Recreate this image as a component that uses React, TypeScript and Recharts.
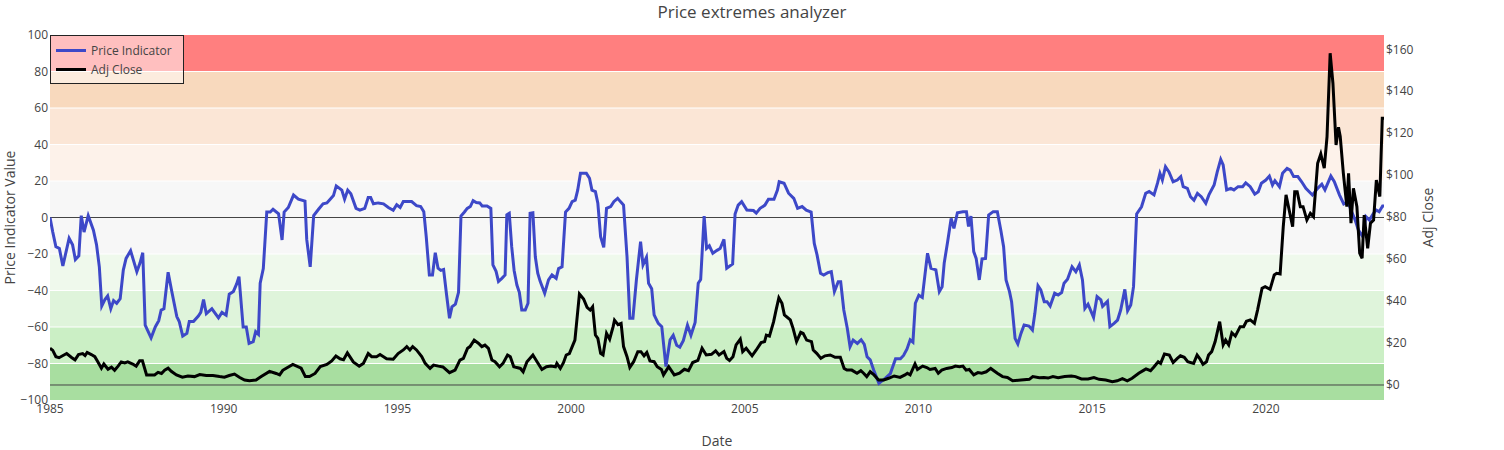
import { LineChart, Line, XAxis, YAxis, ReferenceArea, ReferenceLine } from 'recharts';

// [decimal year, indicator value]
const indicatorSeries: [number, number][] = [
  [1985.0, 0], [1985.08, -8], [1985.17, -16], [1985.27, -17], [1985.37, -26.6], [1985.55, -11.4], [1985.65, -15],
  [1985.73, -23], [1985.83, -21], [1985.9, 1], [1985.98, -8], [1986.1, 1], [1986.25, -7], [1986.34, -15],
  [1986.42, -27], [1986.49, -48.5], [1986.58, -45], [1986.66, -43], [1986.75, -50], [1986.83, -45.5], [1986.92, -47],
  [1987.02, -44.5], [1987.11, -28.8], [1987.19, -22.4], [1987.32, -18.2], [1987.5, -29.7], [1987.59, -25],
  [1987.67, -19.3], [1987.74, -59], [1987.91, -66], [1988.03, -60], [1988.13, -56.5], [1988.2, -50.7],
  [1988.28, -50], [1988.4, -30], [1988.5, -40], [1988.65, -54.3], [1988.72, -57], [1988.82, -65], [1988.94, -63.5],
  [1989.01, -57], [1989.13, -57], [1989.27, -54], [1989.34, -52], [1989.42, -45], [1989.5, -52.7], [1989.66, -50],
  [1989.85, -55], [1989.95, -52], [1990.07, -53.5], [1990.16, -42], [1990.28, -40.5], [1990.37, -36.5],
  [1990.44, -32.4], [1990.56, -60], [1990.65, -60], [1990.73, -69], [1990.85, -68], [1990.92, -62.5], [1991.0, -64],
  [1991.05, -36], [1991.14, -28], [1991.24, 3], [1991.34, 3], [1991.42, 4.5], [1991.58, 2], [1991.68, -12.3],
  [1991.74, 3], [1991.86, 5.5], [1992.01, 12.3], [1992.15, 10], [1992.34, 9], [1992.39, -12], [1992.49, -27],
  [1992.59, 1], [1992.73, 4.5], [1992.86, 7.5], [1992.97, 8], [1993.04, 9.5], [1993.16, 12], [1993.24, 17.3],
  [1993.4, 15], [1993.48, 10], [1993.57, 15], [1993.66, 13], [1993.81, 5], [1993.92, 4], [1994.06, 5],
  [1994.16, 11], [1994.23, 11], [1994.31, 7.5], [1994.45, 8], [1994.6, 7.5], [1994.74, 5.5], [1994.88, 4],
  [1994.98, 7], [1995.08, 5.5], [1995.17, 8.7], [1995.41, 8.7], [1995.55, 6.5], [1995.67, 6], [1995.76, 3.2],
  [1995.83, -10.5], [1995.92, -31.5], [1996.01, -31.5], [1996.09, -19.3], [1996.17, -27.8], [1996.25, -29],
  [1996.33, -28.5], [1996.41, -41.5], [1996.5, -55.2], [1996.57, -49], [1996.67, -47.5], [1996.76, -41],
  [1996.83, 0.8], [1996.93, 3], [1997.01, 5], [1997.1, 6], [1997.18, 9.2], [1997.27, 8.2], [1997.37, 8],
  [1997.44, 6.3], [1997.58, 6.3], [1997.69, 5], [1997.75, -26], [1997.84, -29.5], [1997.91, -35], [1998.0, -33.5],
  [1998.1, -31.5], [1998.15, 1.5], [1998.22, 2.3], [1998.29, -16], [1998.36, -29], [1998.44, -37], [1998.51, -41],
  [1998.58, -50.7], [1998.68, -50.7], [1998.76, -47], [1998.82, 2.3], [1998.9, 2.6], [1998.97, -21.5],
  [1999.04, -30.5], [1999.11, -35], [1999.24, -41.5], [1999.35, -34.2], [1999.45, -31.5], [1999.57, -33.3],
  [1999.64, -28], [1999.74, -27], [1999.84, 3], [1999.94, 5], [2000.03, 8.7], [2000.12, 9.5], [2000.19, 15],
  [2000.27, 24.2], [2000.44, 24.2], [2000.53, 21.5], [2000.6, 15], [2000.7, 14.2], [2000.77, 7.8], [2000.85, -10.5],
  [2000.94, -16.4], [2001.02, 5], [2001.14, 6], [2001.23, 8.7], [2001.34, 10.5], [2001.42, 8.7], [2001.51, 6.8],
  [2001.61, -21.5], [2001.69, -55.2], [2001.78, -55.2], [2001.88, -34.2], [2002.0, -13.2], [2002.07, -26],
  [2002.17, -21.8], [2002.23, -36], [2002.32, -39], [2002.39, -53.4], [2002.51, -58], [2002.61, -59.8],
  [2002.73, -81.7], [2002.85, -67], [2002.94, -64.5], [2003.04, -70], [2003.13, -71], [2003.23, -67.5],
  [2003.35, -59], [2003.45, -64.5], [2003.57, -57.5], [2003.66, -36], [2003.73, -34], [2003.83, 0.8],
  [2003.9, -16.9], [2003.98, -15.5], [2004.08, -19.6], [2004.2, -18], [2004.29, -17], [2004.4, -12],
  [2004.48, -27.8], [2004.65, -25.5], [2004.72, 1.9], [2004.81, 6.8], [2004.91, 8.7], [2005.06, 4.1],
  [2005.25, 3.8], [2005.33, 2.4], [2005.44, 5], [2005.58, 6.8], [2005.68, 10], [2005.84, 10], [2005.94, 15],
  [2005.99, 19.6], [2006.13, 18.8], [2006.26, 13.3], [2006.41, 10.5], [2006.52, 5], [2006.65, 6], [2006.77, 4],
  [2006.91, 3], [2007.0, -14.2], [2007.08, -20.5], [2007.18, -30.6], [2007.27, -31.5], [2007.39, -30.2],
  [2007.49, -29.7], [2007.58, -40.6], [2007.69, -35.2], [2007.76, -35.2], [2007.85, -50.7], [2007.95, -60.7],
  [2008.03, -70.8], [2008.12, -67.2], [2008.24, -69], [2008.35, -67], [2008.44, -69.5], [2008.52, -76.3],
  [2008.61, -78], [2008.71, -83.6], [2008.86, -90.9], [2009.05, -88], [2009.19, -85.5], [2009.34, -77.4],
  [2009.48, -77.4], [2009.57, -75.6], [2009.67, -72], [2009.76, -67], [2009.84, -68.3], [2009.91, -47],
  [2010.01, -42.6], [2010.11, -43.8], [2010.18, -32.4], [2010.26, -19.6], [2010.36, -27.8], [2010.5, -28.7],
  [2010.6, -40.6], [2010.68, -38], [2010.74, -25], [2010.84, -13.2], [2010.94, -0.5], [2011.02, -6],
  [2011.12, 2.6], [2011.28, 3.2], [2011.38, 3.2], [2011.44, -4.9], [2011.51, 0.8], [2011.59, -18.7],
  [2011.66, -22.4], [2011.75, -34.2], [2011.83, -22.7], [2011.93, -22.4], [2012.02, 1.4], [2012.15, 3.2],
  [2012.27, 3.2], [2012.37, -7], [2012.45, -16], [2012.52, -34.2], [2012.62, -40.6], [2012.68, -46.1],
  [2012.78, -66.2], [2012.86, -69.3], [2012.95, -63.5], [2013.04, -58.9], [2013.18, -59.5], [2013.28, -61.7],
  [2013.35, -52.5], [2013.44, -37.4], [2013.52, -39.7], [2013.62, -46.1], [2013.7, -46.1], [2013.79, -48.5],
  [2013.92, -41.5], [2014.02, -42.5], [2014.12, -41.1], [2014.19, -36], [2014.29, -33.8], [2014.42, -27],
  [2014.53, -29.7], [2014.63, -26], [2014.72, -34.2], [2014.79, -49.8], [2014.88, -47.5], [2015.04, -54.7],
  [2015.14, -43.3], [2015.25, -45.1], [2015.3, -48.7], [2015.44, -46], [2015.51, -59.8], [2015.63, -58],
  [2015.73, -56.2], [2015.82, -50.7], [2015.94, -39.4], [2016.02, -51.1], [2016.11, -48], [2016.19, -37.9],
  [2016.28, 1.9], [2016.42, 5.9], [2016.54, 13.3], [2016.64, 14.2], [2016.78, 12.4], [2016.88, 18.8],
  [2016.95, 24.2], [2017.02, 20.5], [2017.11, 27.8], [2017.21, 25], [2017.33, 19.6], [2017.45, 20.5],
  [2017.55, 22.4], [2017.62, 16.9], [2017.74, 16], [2017.83, 11.4], [2017.93, 9.5], [2018.03, 13.2],
  [2018.14, 11.4], [2018.27, 7.8], [2018.36, 12.4], [2018.51, 17.8], [2018.6, 25], [2018.7, 31.8],
  [2018.77, 28.8], [2018.87, 15.1], [2018.99, 16], [2019.08, 15.1], [2019.2, 16.9], [2019.33, 16.9],
  [2019.42, 19], [2019.55, 16.9], [2019.68, 12.8], [2019.78, 14.1], [2019.87, 18.8], [2020.0, 20.5],
  [2020.1, 22.7], [2020.19, 17.8], [2020.26, 20.2], [2020.39, 16.9], [2020.48, 24.2], [2020.61, 26.9],
  [2020.7, 26], [2020.8, 22.4], [2020.92, 22.4], [2021.03, 19.6], [2021.15, 16], [2021.34, 12.3],
  [2021.49, 16], [2021.61, 18.2], [2021.7, 15.1], [2021.87, 22.7], [2021.97, 19.6], [2022.12, 12.3],
  [2022.24, 7.4], [2022.36, 8.7], [2022.45, 4.1], [2022.57, -1.4], [2022.66, -6.8], [2022.79, -10.5],
  [2022.88, 0.5], [2022.98, -1.4], [2023.07, 1.4], [2023.17, 4.1], [2023.26, 3.2], [2023.36, 6.3], [2023.4, 6.3],
];

// [decimal year, adjusted close in $]
const closeSeries: [number, number][] = [
  [1985.0, 17.5], [1985.08, 16.5], [1985.17, 13.5], [1985.26, 13], [1985.48, 15], [1985.63, 13], [1985.72, 12],
  [1985.82, 14.5], [1985.94, 15], [1986.01, 14], [1986.07, 15.5], [1986.19, 14.5], [1986.29, 13.5], [1986.38, 11],
  [1986.48, 8], [1986.55, 10], [1986.67, 7.5], [1986.77, 8.5], [1986.86, 7], [1986.96, 9], [1987.05, 11],
  [1987.15, 10.5], [1987.24, 11], [1987.38, 10], [1987.48, 9], [1987.58, 11.5], [1987.66, 11.5], [1987.78, 4.8],
  [1987.92, 4.8], [1988.01, 4.8], [1988.11, 6], [1988.21, 5.5], [1988.3, 7], [1988.4, 8], [1988.49, 6.5],
  [1988.64, 4.8], [1988.81, 3.7], [1988.97, 4.3], [1989.16, 4], [1989.31, 5], [1989.5, 4.5], [1989.69, 4.5],
  [1989.88, 4], [1990.02, 3.7], [1990.16, 4.5], [1990.31, 5.2], [1990.45, 3.7], [1990.6, 2.4], [1990.74, 2],
  [1990.93, 2.4], [1991.08, 4], [1991.32, 6.5], [1991.51, 5.5], [1991.61, 4.8], [1991.7, 7], [1991.8, 8],
  [1991.99, 9.8], [1992.23, 8], [1992.35, 4], [1992.47, 4], [1992.63, 5.5], [1992.78, 8.8], [1992.97, 9.8],
  [1993.11, 11.5], [1993.23, 13.8], [1993.35, 12.5], [1993.45, 12], [1993.56, 15.3], [1993.73, 11],
  [1993.9, 9], [1994.02, 10.3], [1994.16, 15], [1994.26, 13.5], [1994.4, 13.5], [1994.5, 14.5], [1994.69, 12.5],
  [1994.88, 12.3], [1995.02, 15], [1995.17, 16.7], [1995.27, 18.3], [1995.36, 16.7], [1995.44, 18.3],
  [1995.55, 16.7], [1995.7, 13.5], [1995.8, 10.3], [1995.94, 7.9], [1996.04, 9.5], [1996.18, 9], [1996.31, 8.6],
  [1996.5, 5.9], [1996.66, 7.1], [1996.8, 11.9], [1996.9, 12.7], [1997.02, 17.5], [1997.09, 18.3],
  [1997.21, 21.4], [1997.33, 19.9], [1997.43, 18.3], [1997.52, 19], [1997.62, 17.5], [1997.72, 11.9],
  [1997.81, 11.1], [1997.94, 8.7], [1998.04, 10.3], [1998.17, 14.3], [1998.25, 13.5], [1998.35, 8.7],
  [1998.44, 8.3], [1998.54, 7.9], [1998.62, 6.3], [1998.73, 11.1], [1998.9, 14.3], [1999.02, 11.1],
  [1999.16, 7.4], [1999.29, 8.7], [1999.42, 9], [1999.55, 8.7], [1999.59, 10.3], [1999.69, 7.9],
  [1999.78, 10.6], [1999.86, 14.3], [1999.95, 15], [2000.05, 19], [2000.11, 21.4], [2000.24, 43.4],
  [2000.36, 41], [2000.46, 37], [2000.55, 35.7], [2000.62, 37.3], [2000.7, 23.8], [2000.77, 22.2],
  [2000.85, 15.1], [2000.92, 14.3], [2001.02, 24.6], [2001.11, 21.8], [2001.21, 27.8], [2001.25, 30.9],
  [2001.35, 28.8], [2001.44, 29.4], [2001.51, 18.3], [2001.61, 13.5], [2001.69, 8.4], [2001.8, 11.1],
  [2001.92, 15.9], [2002.01, 15.9], [2002.1, 13.9], [2002.18, 15.5], [2002.27, 11.5], [2002.39, 11.1],
  [2002.48, 8.7], [2002.6, 7.4], [2002.66, 4.8], [2002.81, 8.7], [2002.97, 4.8], [2003.12, 5.6], [2003.26, 7.5],
  [2003.38, 6.8], [2003.5, 10.7], [2003.65, 11.7], [2003.77, 17.5], [2003.89, 14.3], [2004.04, 14.6],
  [2004.16, 16.3], [2004.26, 14.3], [2004.4, 15.9], [2004.48, 12.7], [2004.56, 11.7], [2004.66, 13.5],
  [2004.75, 19.1], [2004.87, 21.8], [2004.94, 15.9], [2005.04, 17.5], [2005.21, 13.9], [2005.33, 16.7],
  [2005.47, 20.2], [2005.57, 20.7], [2005.62, 23.8], [2005.71, 23.3], [2005.83, 30.2], [2005.9, 35.7],
  [2005.98, 41.5], [2006.07, 38.9], [2006.14, 33.4], [2006.31, 31], [2006.39, 27], [2006.49, 20.7],
  [2006.61, 25.1], [2006.68, 24.6], [2006.78, 21.4], [2006.92, 20.7], [2006.97, 16.7], [2007.07, 15.1],
  [2007.19, 12.7], [2007.31, 13.9], [2007.46, 14.3], [2007.6, 13.2], [2007.75, 13.2], [2007.86, 7.9],
  [2007.94, 7.1], [2008.08, 7.1], [2008.23, 5.6], [2008.34, 6.8], [2008.42, 5.6], [2008.51, 4], [2008.61, 6.3],
  [2008.72, 4.8], [2008.85, 2.4], [2009.0, 2.4], [2009.14, 3.2], [2009.3, 4.3], [2009.47, 3.6], [2009.61, 4.8],
  [2009.68, 5.6], [2009.76, 4.8], [2009.9, 10], [2009.97, 7.4], [2010.12, 9], [2010.24, 8.3], [2010.33, 7.4],
  [2010.48, 7.9], [2010.57, 5.6], [2010.67, 7.1], [2010.81, 7.9], [2010.96, 8.3], [2011.06, 9], [2011.18, 8.7],
  [2011.28, 9], [2011.37, 7.1], [2011.46, 7.4], [2011.59, 4.8], [2011.71, 5.9], [2011.82, 5.6], [2011.95, 6.3],
  [2012.08, 7.9], [2012.18, 6.7], [2012.27, 5.6], [2012.42, 4], [2012.56, 3.6], [2012.71, 2], [2012.95, 2.4],
  [2013.19, 2.7], [2013.29, 4], [2013.48, 3.5], [2013.61, 3.6], [2013.73, 3.3], [2013.87, 4], [2014.02, 3.5],
  [2014.21, 4], [2014.4, 4.3], [2014.52, 4], [2014.69, 2.9], [2014.88, 2.9], [2015.05, 3.5], [2015.2, 2.7],
  [2015.39, 2.4], [2015.58, 1.6], [2015.72, 2], [2015.87, 3], [2016.01, 2], [2016.15, 3.2], [2016.34, 5.6],
  [2016.49, 7.1], [2016.55, 7.7], [2016.68, 6.8], [2016.77, 8.5], [2016.9, 11.1], [2016.97, 10.3],
  [2017.08, 14.8], [2017.22, 14.3], [2017.33, 10.7], [2017.45, 12.7], [2017.54, 13.9], [2017.65, 13.2],
  [2017.75, 11.1], [2017.92, 10.3], [2018.02, 14.3], [2018.11, 12.2], [2018.19, 9.9], [2018.29, 11.1],
  [2018.35, 14.3], [2018.44, 15.9], [2018.54, 20.7], [2018.67, 30.2], [2018.77, 19.1], [2018.84, 21.4],
  [2018.93, 19.1], [2019.02, 24.9], [2019.12, 23.3], [2019.26, 27.8], [2019.36, 27.8], [2019.44, 30.4],
  [2019.55, 31], [2019.67, 29.4], [2019.76, 35.7], [2019.89, 46.1], [2019.98, 46.9], [2020.12, 45.6],
  [2020.24, 52.4], [2020.31, 53.2], [2020.41, 52.9], [2020.5, 75.5], [2020.58, 90.6], [2020.67, 83.4],
  [2020.77, 75.5], [2020.83, 92.1], [2020.9, 92.1], [2020.99, 85], [2021.07, 85], [2021.18, 78.6],
  [2021.28, 81.8], [2021.37, 80.2], [2021.49, 105.7], [2021.58, 110.1], [2021.68, 103.3], [2021.76, 118.4],
  [2021.85, 158.1], [2021.93, 143.8], [2022.02, 114.4], [2022.09, 122.8], [2022.14, 118.4], [2022.23, 100.9],
  [2022.33, 85], [2022.38, 100.9], [2022.45, 77.1], [2022.52, 93.7], [2022.62, 85], [2022.7, 62.8],
  [2022.77, 60.4], [2022.83, 81], [2022.93, 65.1], [2023.01, 77.1], [2023.1, 78.6], [2023.18, 97.7],
  [2023.28, 89.8], [2023.35, 127.1], [2023.4, 127.1],
];

const yearTicks = [1985, 1990, 1995, 2000, 2005, 2010, 2015, 2020];
const indicatorTicks = [-100, -80, -60, -40, -20, 0, 20, 40, 60, 80, 100];
const closeTicks = [0, 20, 40, 60, 80, 100, 120, 140, 160];

// shaded zones of the indicator
const bandLow = [-100, -80, -60, -40, -20, 20, 40, 60, 80];
const bandHigh = [-80, -60, -40, -20, 20, 40, 60, 80, 100];
const bandFill = ['#a8dea0', '#cbefc5', '#dff4db', '#eff9ec', '#f7f7f7', '#fdf2ea', '#fbe6d6', '#f8d9bd', '#ff7f7f'];

const indicatorData = indicatorSeries.map(([t, v]) => ({ t, v }));
const closeData = closeSeries.map(([t, v]) => ({ t, v }));

const FONT = '"Open Sans", verdana, arial, sans-serif';
const tickStyle = { fill: '#444', fontSize: 12, fontFamily: FONT };
const minus = (v: number) => (v < 0 ? `\u2212${Math.abs(v)}` : `${v}`);

export default function App() {
  return (
    <div style={{ position: 'absolute', left: 0, top: 0, width: 1504, height: 450, fontFamily: FONT, background: '#fff' }}>
      <div style={{ position: 'absolute', left: 0, top: 0, width: 1504, textAlign: 'center', fontSize: 17, lineHeight: '24px', color: '#444' }}>
        Price extremes analyzer
      </div>
      <LineChart width={1504} height={450} margin={{ top: 35, right: 0, bottom: 0, left: 0 }}>
        <XAxis
          dataKey="t"
          type="number"
          domain={[1985, 2023.4]}
          ticks={yearTicks}
          interval={0}
          allowDataOverflow
          axisLine={false}
          tickLine={false}
          tickSize={4}
          tickMargin={0}
          height={50}
          tick={tickStyle}
          label={{ value: 'Date', position: 'insideBottom', offset: 4, fill: '#444', fontSize: 14 }}
        />
        <YAxis
          yAxisId="left"
          domain={[-100, 100]}
          ticks={indicatorTicks}
          interval={0}
          allowDataOverflow
          axisLine={false}
          tickLine={false}
          tickSize={2}
          tickMargin={0}
          width={50}
          tick={tickStyle}
          tickFormatter={minus}
          label={{ value: 'Price Indicator Value', angle: -90, position: 'insideLeft', offset: 10, fill: '#444', fontSize: 14, style: { textAnchor: 'middle' } }}
        />
        <YAxis
          yAxisId="right"
          orientation="right"
          domain={[-7.15, 166.8]}
          ticks={closeTicks}
          interval={0}
          allowDataOverflow
          axisLine={false}
          tickLine={false}
          tickSize={2}
          tickMargin={0}
          width={120}
          tick={tickStyle}
          tickFormatter={(v: number) => `$${v}`}
          label={{ value: 'Adj Close', angle: -90, position: 'insideRight', offset: 76, fill: '#444', fontSize: 14, style: { textAnchor: 'middle' } }}
        />
        {bandFill.map((fill, i) => (
          <ReferenceArea
            key={`band-${i}`}
            yAxisId="left"
            y1={bandLow[i]}
            y2={bandHigh[i]}
            fill={fill}
            fillOpacity={1}
            stroke="none"
            ifOverflow="visible"
          />
        ))}
        {indicatorTicks.filter((v) => v !== 0 && Math.abs(v) !== 100).map((v) => (
          <ReferenceLine key={`grid-${v}`} yAxisId="left" y={v} stroke="#ffffff" strokeWidth={1} />
        ))}
        <ReferenceLine yAxisId="left" y={0} stroke="#444" strokeWidth={1} />
        <ReferenceLine yAxisId="right" y={0} stroke="#444" strokeWidth={1} />
        <Line
          data={indicatorData}
          yAxisId="left"
          dataKey="v"
          name="Price Indicator"
          type="linear"
          stroke="#3d48c8"
          strokeWidth={3}
          dot={false}
          activeDot={false}
          isAnimationActive={false}
        />
        <Line
          data={closeData}
          yAxisId="right"
          dataKey="v"
          name="Adj Close"
          type="linear"
          stroke="#000000"
          strokeWidth={3}
          dot={false}
          activeDot={false}
          isAnimationActive={false}
        />
      </LineChart>
      <div
        style={{
          position: 'absolute',
          left: 50,
          top: 35,
          width: 132,
          height: 47,
          border: '1px solid #222',
          background: 'rgba(255,255,255,0.5)',
          fontSize: 12,
          color: '#444',
        }}
      >
        {[
          { label: 'Price Indicator', color: '#3d48c8' },
          { label: 'Adj Close', color: '#000' },
        ].map((item, i) => (
          <div key={item.label} style={{ position: 'absolute', left: 5, top: 6 + i * 19, height: 16, display: 'flex', alignItems: 'center' }}>
            <div style={{ width: 30, height: 3, background: item.color }} />
            <span style={{ marginLeft: 5 }}>{item.label}</span>
          </div>
        ))}
      </div>
    </div>
  );
}
